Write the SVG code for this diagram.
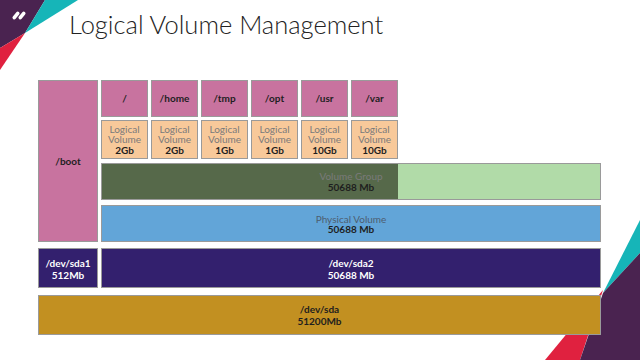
<svg xmlns="http://www.w3.org/2000/svg" width="640" height="360" viewBox="0 0 640 360">
<style>
.b{stroke:#9a9a9a;stroke-width:1}
.pk{fill:#C8739F}
.lv{fill:#F8C99A}
text{font-family:Lato,"Open Sans","Liberation Sans",sans-serif;font-size:10px;text-anchor:middle}
.bd{font-weight:bold;fill:#1e1e1e}
.gr{fill:#7a7a7a}
.wh{font-weight:bold;fill:#ffffff}
.title{font-family:Lato,"Open Sans",sans-serif;font-weight:300;font-size:25.5px;fill:#222;text-anchor:start}
</style>
<rect width="640" height="360" fill="#ffffff"/>
<g id="decor">
<polygon points="0,0 45,0 25,33 0,48" fill="#4A2350"/>
<polygon points="45,0 78,0 25,33" fill="#16B5B8"/>
<polygon points="25,33 0,48 0,70" fill="#E0213F"/>
<rect x="11.5" y="13.7" width="9" height="3.6" rx="1.8" fill="#fff" transform="rotate(-50 16 15.5)"/>
<rect x="17.5" y="13.7" width="9" height="3.6" rx="1.8" fill="#fff" transform="rotate(-50 22 15.5)"/>
<polygon points="603,293 640,220 640,253" fill="#16B5B8"/>
<polygon points="603,290 580,360 545,360" fill="#E0213F"/>
<polygon points="603,293 640,253 640,360 580,360" fill="#4A2350"/>
</g>
<text class="title" x="69" y="34">Logical Volume Management</text>
<g id="boot"><rect class="b pk" x="38.5" y="80.5" width="59" height="161"/><text class="bd" x="68" y="165">/boot</text></g>
<g id="m-root"><rect class="b pk" x="101.5" y="80.5" width="46" height="36"/><text class="bd" x="124.5" y="101.5">/</text></g>
<g id="m-home"><rect class="b pk" x="151.5" y="80.5" width="46" height="36"/><text class="bd" x="174.5" y="101.5">/home</text></g>
<g id="m-tmp"><rect class="b pk" x="201.5" y="80.5" width="46" height="36"/><text class="bd" x="224.5" y="101.5">/tmp</text></g>
<g id="m-opt"><rect class="b pk" x="251.5" y="80.5" width="46" height="36"/><text class="bd" x="274.5" y="101.5">/opt</text></g>
<g id="m-usr"><rect class="b pk" x="301.5" y="80.5" width="46" height="36"/><text class="bd" x="324.5" y="101.5">/usr</text></g>
<g id="m-var"><rect class="b pk" x="351.5" y="80.5" width="46" height="36"/><text class="bd" x="374.5" y="101.5">/var</text></g>
<g id="lv-root"><rect class="b lv" x="101.5" y="120.5" width="46" height="38"/><text class="gr" x="124.5" y="132.5">Logical</text><text class="gr" x="124.5" y="143">Volume</text><text class="bd" x="124.5" y="153.5">2Gb</text></g>
<g id="lv-home"><rect class="b lv" x="151.5" y="120.5" width="46" height="38"/><text class="gr" x="174.5" y="132.5">Logical</text><text class="gr" x="174.5" y="143">Volume</text><text class="bd" x="174.5" y="153.5">2Gb</text></g>
<g id="lv-tmp"><rect class="b lv" x="201.5" y="120.5" width="46" height="38"/><text class="gr" x="224.5" y="132.5">Logical</text><text class="gr" x="224.5" y="143">Volume</text><text class="bd" x="224.5" y="153.5">1Gb</text></g>
<g id="lv-opt"><rect class="b lv" x="251.5" y="120.5" width="46" height="38"/><text class="gr" x="274.5" y="132.5">Logical</text><text class="gr" x="274.5" y="143">Volume</text><text class="bd" x="274.5" y="153.5">1Gb</text></g>
<g id="lv-usr"><rect class="b lv" x="301.5" y="120.5" width="46" height="38"/><text class="gr" x="324.5" y="132.5">Logical</text><text class="gr" x="324.5" y="143">Volume</text><text class="bd" x="324.5" y="153.5">10Gb</text></g>
<g id="lv-var"><rect class="b lv" x="351.5" y="120.5" width="46" height="38"/><text class="gr" x="374.5" y="132.5">Logical</text><text class="gr" x="374.5" y="143">Volume</text><text class="bd" x="374.5" y="153.5">10Gb</text></g>
<g id="vg"><rect class="b" x="101.5" y="163.5" width="499" height="36" fill="#B1DBA8"/><rect x="102" y="164" width="296" height="35" fill="#56694A"/><text class="gr" x="351" y="180">Volume Group</text><text class="bd" x="351" y="190.5">50688 Mb</text></g>
<g id="pv"><rect class="b" x="101.5" y="205.5" width="499" height="36" fill="#62A5D8"/><text x="351" y="222.5" fill="#4d5e70">Physical Volume</text><text class="bd" x="351" y="233">50688 Mb</text></g>
<g id="sda1"><rect class="b" x="38.5" y="248.5" width="59" height="39" fill="#33206E"/><text class="wh" x="68" y="266.5">/dev/sda1</text><text class="wh" x="68" y="278.5">512Mb</text></g>
<g id="sda2"><rect class="b" x="101.5" y="248.5" width="499" height="39" fill="#33206E"/><text class="wh" x="351" y="266.5">/dev/sda2</text><text class="wh" x="351" y="278.5">50688 Mb</text></g>
<g id="sda"><rect class="b" x="38.5" y="295.5" width="562" height="39" fill="#C29021"/><text class="bd" x="319.5" y="313">/dev/sda</text><text class="bd" x="319.5" y="324.5">51200Mb</text></g>
</svg>
